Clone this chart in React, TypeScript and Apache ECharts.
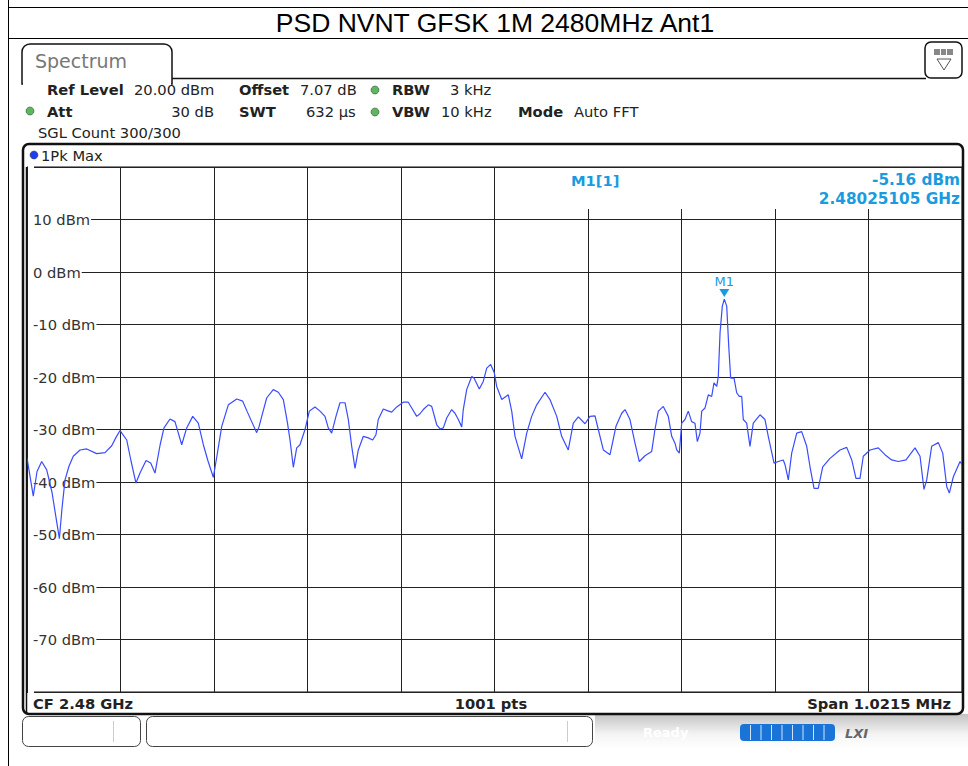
import React, { useEffect, useRef } from "react";
import * as echarts from "echarts";

// Frequency offsets from CF (kHz) and trace levels (dBm)
const freqKHz = [
  -510.75, -503.9, -499.8, -494.7, -489.2, -483.4, -475.4, -472.5, -469.2, -464.9,
  -460.2, -452.8, -445.5, -434.6, -425.5, -418.2, -413.5, -409.1, -401.8, -397.1,
  -391.7, -387.3, -380.7, -375.6, -370.9, -365.4, -361.1, -354.5, -349.1, -341.7,
  -336.3, -329.7, -323.6, -318.1, -313.0, -307.2, -303.2, -298.0, -290.8, -281.6,
  -275.1, -270.4, -265.3, -259.8, -257.3, -254.3, -248.9, -241.7, -236.2, -230.7,
  -226.4, -223.4, -219.8, -216.1, -212.5, -207.0, -202.3, -196.1, -190.6, -185.2,
  -181.6, -177.9, -173.2, -168.8, -163.3, -159.7, -156.0, -152.4, -148.8, -143.3,
  -137.9, -133.1, -129.5, -127.0, -121.5, -117.1, -112.3, -106.8, -99.6, -94.2,
  -90.1, -85.0, -81.4, -77.8, -72.3, -68.6, -63.1, -59.5, -55.9, -52.2,
  -46.8, -43.2, -39.5, -35.8, -34.1, -30.4, -24.9, -22.4, -16.6, -12.2,
  -8.5, -4.2, -0.2, 2.4, 7.9, 15.1, 18.8, 22.4, 29.7, 35.2,
  40.6, 46.1, 55.2, 60.6, 68.0, 73.4, 77.0, 80.6, 86.1, 91.6,
  98.9, 104.3, 109.8, 113.4, 118.9, 126.2, 132.7, 139.0, 142.6, 148.0,
  153.5, 158.2, 164.4, 171.7, 175.3, 179.0, 184.4, 189.9, 193.6, 197.2,
  199.1, 201.9, 204.5, 208.1, 211.7, 215.4, 219.0, 221.6, 224.5, 226.4,
  230.0, 233.6, 237.3, 239.8, 242.8, 244.5, 246.4, 248.9, 251.05, 253.7,
  255.9, 258.0, 261.7, 264.6, 267.4, 270.1, 271.8, 275.5, 279.1, 282.7,
  290.1, 295.5, 299.1, 305.4, 310.1, 315.5, 317.4, 321.0, 324.7, 330.2,
  335.6, 341.1, 344.7, 349.1, 353.7, 358.6, 366.5, 377.5, 384.8, 390.3,
  394.9, 399.3, 402.9, 410.3, 419.3, 426.6, 433.9, 441.2, 449.6, 459.4,
  464.9, 469.2, 472.2, 477.6, 484.9, 489.7, 494.1, 496.9, 501.3, 508.6,
  510.75,
];
const levelDbm = [
  -35.4, -42.7, -38.0, -36.1, -37.7, -42.0, -50.8, -45.0, -39.6, -37.0,
  -35.1, -33.9, -33.7, -34.6, -34.4, -33.1, -31.5, -30.2, -32.0, -36.0,
  -40.2, -38.3, -35.9, -36.4, -38.3, -33.0, -29.7, -28.0, -28.5, -32.9,
  -29.7, -27.5, -28.8, -32.9, -36.0, -39.1, -35.0, -29.4, -25.3, -24.2,
  -24.6, -26.5, -28.5, -30.6, -29.5, -27.5, -24.0, -22.4, -22.9, -24.3,
  -28.5, -32.0, -37.2, -33.5, -32.9, -30.0, -26.5, -25.7, -26.5, -27.5,
  -29.7, -30.7, -27.5, -24.9, -24.9, -28.1, -33.2, -37.4, -33.9, -31.3,
  -31.6, -32.0, -31.0, -28.1, -26.1, -26.4, -26.7, -25.7, -24.8, -24.8,
  -26.0, -27.5, -27.0, -26.2, -25.3, -25.6, -29.1, -29.9, -29.7, -27.8,
  -26.2, -26.9, -28.1, -29.5, -26.2, -22.4, -19.9, -20.2, -22.3, -20.8,
  -18.3, -17.6, -19.2, -21.8, -24.3, -23.4, -26.5, -31.3, -35.6, -30.7,
  -27.5, -25.3, -22.9, -24.3, -27.5, -31.3, -32.6, -33.9, -28.8, -27.6,
  -28.9, -27.5, -27.4, -30.0, -33.9, -34.8, -29.4, -26.9, -26.2, -28.1,
  -32.6, -36.1, -35.0, -34.2, -30.0, -26.5, -25.6, -27.5, -31.3, -32.6,
  -33.9, -34.5, -28.8, -28.1, -26.5, -28.5, -28.8, -32.3, -30.7, -26.5,
  -25.9, -23.4, -23.7, -21.1, -21.8, -19.9, -11.6, -6.5, -5.16, -6.5,
  -14.1, -20.2, -20.2, -23.0, -23.7, -23.7, -28.1, -28.8, -33.2, -28.8,
  -27.2, -28.1, -31.3, -36.4, -36.1, -35.8, -36.7, -39.6, -34.5, -30.7,
  -30.4, -33.2, -37.1, -41.2, -41.2, -37.1, -35.5, -33.9, -33.4, -35.8,
  -39.3, -39.3, -35.1, -33.9, -33.5, -34.8, -35.8, -36.1, -35.8, -33.5,
  -35.1, -41.4, -39.6, -33.2, -32.5, -34.5, -40.9, -42.1, -39.0, -36.1,
  -36.7,
];

const markerFreqKHz = [251.05];
const markerLevel = [-5.16];

const yMin = -80;
const yMax = 20;
const span = 1021.5;

const FONT = "DejaVu Sans";
const FS = 14.7;
const BLUE_TXT = "#1a9be0";

export default function App() {
  const ref = useRef<HTMLDivElement>(null);

  useEffect(() => {
    if (!ref.current) return;
    const chart = echarts.init(ref.current, null, { renderer: "svg" });
    const data = freqKHz.map((f, i) => [f, levelDbm[i]]);
    const hdr = (x: number, y: number, t: string, bold = false, align = "left") => ({
      type: "text",
      x,
      y,
      z: 5,
      style: {
        text: t,
        fontFamily: FONT,
        fontSize: FS,
        fontWeight: bold ? "bold" : "normal",
        fill: "#222",
        textAlign: align,
        textVerticalAlign: "middle",
      },
    });
    const dot = (x: number, y: number, color: string) => ({
      type: "circle",
      z: 5,
      shape: { cx: x, cy: y, r: 4 },
      style: { fill: color, stroke: "#333", lineWidth: 0.5 },
    });
    const barSegs: any[] = [];
    for (let i = 1; i < 9; i++) {
      barSegs.push({
        type: "line",
        z: 6,
        shape: { x1: 740 + i * 10.5, y1: 725, x2: 740 + i * 10.5, y2: 740 },
        style: { stroke: "#cfe4fb", lineWidth: 1 },
      });
    }

    chart.setOption({
      animation: false,
      backgroundColor: "#fff",
      grid: {
        left: 27,
        right: 6,
        top: 167,
        height: 525,
        show: true,
        borderColor: "#111",
        borderWidth: 1,
        backgroundColor: "transparent",
      },
      xAxis: {
        type: "value",
        min: -span / 2,
        max: span / 2,
        interval: span / 10,
        axisLine: { show: false },
        axisTick: { show: false },
        axisLabel: { show: false },
        splitLine: { show: true, lineStyle: { color: "#222", width: 1 } },
      },
      yAxis: {
        type: "value",
        min: yMin,
        max: yMax,
        interval: 10,
        axisLine: { show: false },
        axisTick: { show: false },
        splitLine: { show: true, lineStyle: { color: "#222", width: 1 } },
        axisLabel: {
          inside: true,
          margin: 1,
          fontFamily: FONT,
          fontSize: FS,
          color: "#333",
          backgroundColor: "#fff",
          padding: [1, 1, 1, 5],
          formatter: (v: number) => (v === yMax || v === yMin ? "" : `${v} dBm`),
        },
      },
      series: [
        {
          type: "line",
          data,
          showSymbol: false,
          symbol: "none",
          z: 3,
          lineStyle: { color: "#3a4cff", width: 1.2 },
          markPoint: {
            symbol: "triangle",
            symbolRotate: 180,
            symbolSize: [10, 8],
            symbolOffset: [0, -6],
            itemStyle: { color: BLUE_TXT },
            label: {
              show: true,
              position: "top",
              distance: 1,
              formatter: "M1",
              color: BLUE_TXT,
              fontFamily: FONT,
              fontSize: 13,
            },
            data: [{ coord: [markerFreqKHz[0], markerLevel[0]] }],
          },
        },
      ],
      graphic: [
        // table borders
        { type: "line", shape: { x1: 8.5, y1: 0, x2: 8.5, y2: 766 }, style: { stroke: "#000", lineWidth: 1 } },
        { type: "line", shape: { x1: 8, y1: 7.5, x2: 968, y2: 7.5 }, style: { stroke: "#000", lineWidth: 1 } },
        { type: "line", shape: { x1: 8, y1: 38.5, x2: 968, y2: 38.5 }, style: { stroke: "#000", lineWidth: 1 } },
        {
          type: "text",
          x: 495,
          y: 23,
          style: {
            text: "PSD NVNT GFSK 1M 2480MHz Ant1",
            fontFamily: "Liberation Sans",
            fontSize: 26.5,
            fill: "#000",
            textAlign: "center",
            textVerticalAlign: "middle",
          },
        },
        // Spectrum tab
        {
          type: "rect",
          shape: { x: 22, y: 44, width: 150, height: 40, r: [8, 8, 0, 0] },
          style: { fill: "#fff", stroke: "#111", lineWidth: 1.5 },
        },
        { type: "rect", shape: { x: 23, y: 78.8, width: 148, height: 8 }, style: { fill: "#fff" } },
        { type: "line", shape: { x1: 172, y1: 78.5, x2: 926, y2: 78.5 }, style: { stroke: "#111", lineWidth: 1.5 } },
        {
          type: "text",
          x: 35,
          y: 61,
          style: { text: "Spectrum", fontFamily: FONT, fontSize: 19, fill: "#777", textVerticalAlign: "middle" },
        },
        // icon
        {
          type: "rect",
          shape: { x: 925, y: 42, width: 37, height: 36, r: 6 },
          style: { fill: "#fff", stroke: "#111", lineWidth: 1.5 },
        },
        { type: "rect", shape: { x: 934, y: 49, width: 19, height: 6 }, style: { fill: "#888" } },
        { type: "line", shape: { x1: 940.5, y1: 49, x2: 940.5, y2: 55 }, style: { stroke: "#fff" } },
        { type: "line", shape: { x1: 946.5, y1: 49, x2: 946.5, y2: 55 }, style: { stroke: "#fff" } },
        {
          type: "polygon",
          shape: { points: [[937, 59], [951, 59], [944, 70]] },
          style: { fill: "#fff", stroke: "#555", lineWidth: 1 },
        },
        // header info
        hdr(47, 89, "Ref Level", true),
        hdr(134, 89, "20.00 dBm"),
        hdr(239, 89, "Offset", true),
        hdr(300, 89, "7.07 dB"),
        dot(375, 90, "#5cb85c"),
        hdr(392, 89, "RBW", true),
        hdr(450, 89, "3 kHz"),
        dot(30, 111, "#5cb85c"),
        hdr(47, 111, "Att", true),
        hdr(214, 111, "30 dB", false, "right"),
        hdr(239, 111, "SWT", true),
        hdr(306, 111, "632 µs"),
        dot(375, 112, "#5cb85c"),
        hdr(392, 111, "VBW", true),
        hdr(441, 111, "10 kHz"),
        hdr(518, 111, "Mode", true),
        hdr(574, 111, "Auto FFT"),
        hdr(38, 132, "SGL Count 300/300"),
        // plot frame
        {
          type: "rect",
          z: 4,
          shape: { x: 23, y: 144, width: 940, height: 570, r: 6 },
          style: { fill: "none", stroke: "#111", lineWidth: 2.5 },
        },
        { type: "line", z: 4, shape: { x1: 26.5, y1: 167, x2: 26.5, y2: 713 }, style: { stroke: "#111", lineWidth: 1.5 } },
        dot(34, 155, "#1f3df0"),
        hdr(41, 155, "1Pk Max"),
        // marker readout
        { type: "rect", z: 1, shape: { x: 565, y: 168, width: 396, height: 41 }, style: { fill: "#fff" } },
        {
          type: "text", x: 571, y: 180, z: 5,
          style: { text: "M1[1]", fontFamily: FONT, fontSize: FS, fontWeight: "bold", fill: BLUE_TXT, textVerticalAlign: "middle" },
        },
        {
          type: "text", x: 960, y: 180, z: 5,
          style: { text: "-5.16 dBm", fontFamily: FONT, fontSize: 15.3, fontWeight: "bold", fill: BLUE_TXT, textAlign: "right", textVerticalAlign: "middle" },
        },
        {
          type: "text", x: 960, y: 199, z: 5,
          style: { text: "2.48025105 GHz", fontFamily: FONT, fontSize: 15.3, fontWeight: "bold", fill: BLUE_TXT, textAlign: "right", textVerticalAlign: "middle" },
        },
        // bottom info row
        hdr(33, 703, "CF 2.48 GHz", true),
        hdr(491, 703, "1001 pts", true, "center"),
        hdr(951, 703, "Span 1.0215 MHz", true, "right"),
        // status bar
        {
          type: "rect",
          shape: { x: 595, y: 714, width: 373, height: 34 },
          style: {
            fill: new echarts.graphic.LinearGradient(0, 0, 0, 1, [
              { offset: 0, color: "#c4c4c4" },
              { offset: 0.6, color: "#f4f4f4" },
              { offset: 1, color: "#ffffff" },
            ]),
          },
        },
        {
          type: "rect",
          shape: { x: 22.5, y: 716.5, width: 118, height: 30, r: 6 },
          style: { fill: "#fff", stroke: "#444", lineWidth: 1 },
        },
        { type: "line", shape: { x1: 113.5, y1: 721, x2: 113.5, y2: 742 }, style: { stroke: "#ccc", lineWidth: 1 } },
        {
          type: "rect",
          shape: { x: 146.5, y: 716.5, width: 446, height: 30, r: 6 },
          style: { fill: "#fff", stroke: "#444", lineWidth: 1 },
        },
        { type: "line", shape: { x1: 567.5, y1: 721, x2: 567.5, y2: 742 }, style: { stroke: "#ccc", lineWidth: 1 } },
        {
          type: "text", x: 643, y: 732,
          style: { text: "Ready", fontFamily: FONT, fontSize: 13, fontWeight: "bold", fill: "#fff", textVerticalAlign: "middle" },
        },
        {
          type: "rect", z: 5,
          shape: { x: 740, y: 724, width: 95, height: 17, r: 4 },
          style: { fill: "#1a74d8" },
        },
        ...barSegs,
        {
          type: "text", x: 845, y: 733,
          style: { text: "LXI", fontFamily: FONT, fontSize: 13, fontWeight: "bold", fontStyle: "italic", fill: "#666", textVerticalAlign: "middle" },
        },
      ],
    });
    return () => chart.dispose();
  }, []);

  return (
    <div
      ref={ref}
      style={{ position: "fixed", left: 0, top: 0, width: 968, height: 766, background: "#fff" }}
    />
  );
}
